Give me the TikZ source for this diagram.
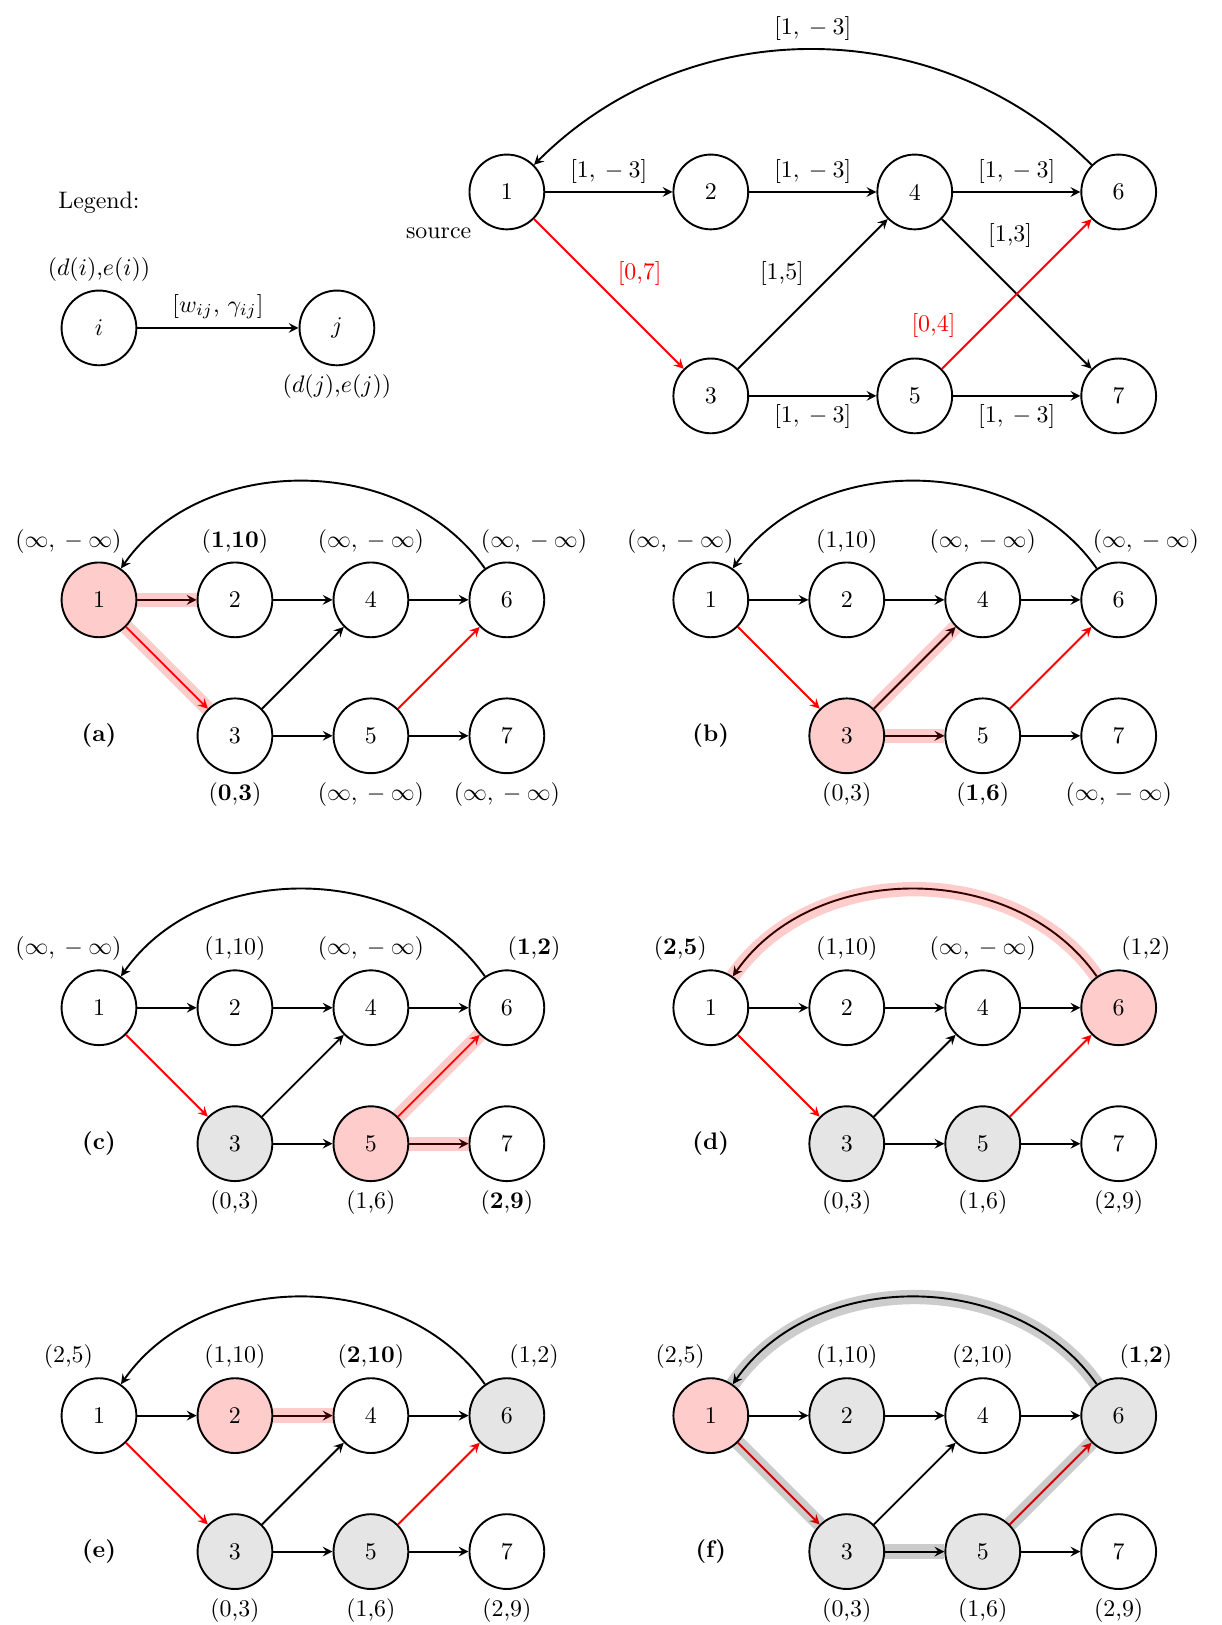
\documentclass[tikz,border=0pt]{standalone}
\usetikzlibrary{positioning}

\tikzset{
  state/.style={circle,draw,thick,minimum size=1.1cm,inner sep=0pt},
  link/.style={->,>=stealth,thick},
  cur/.style={fill=red!20},
  done/.style={fill=black!10},
  hlred/.style={line width=6pt,red,opacity=0.2},
  hlgray/.style={line width=6pt,black,opacity=0.2},
  v1/.style={},v2/.style={},v3/.style={},v4/.style={},
  v5/.style={},v6/.style={},v7/.style={}
}
\newcommand{\infpair}{$(\infty,{}-\infty)$}
% #1 prefix, #2 letter, #3..#9 labels of nodes 1,2,4,6,3,5,7
\newcommand{\panelgraph}[9]{%
  \node[state,v1,label={[xshift=-0.45cm]above:#3}] (#1-1) at (0,0) {1};
  \node[state,v2,label={above:#4}] (#1-2) at (2,0) {2};
  \node[state,v4,label={above:#5}] (#1-4) at (4,0) {4};
  \node[state,v6,label={[xshift=0.4cm]above:#6}] (#1-6) at (6,0) {6};
  \node[state,v3,label={below:#7}] (#1-3) at (2,-2) {3};
  \node[state,v5,label={below:#8}] (#1-5) at (4,-2) {5};
  \node[state,v7,label={below:#9}] (#1-7) at (6,-2) {7};
  \node[font=\bfseries] (#1-name) at (0,-2) {(#2)};
  \draw[link] (#1-1) -- (#1-2);
  \draw[link] (#1-2) -- (#1-4);
  \draw[link] (#1-4) -- (#1-6);
  \draw[link] (#1-3) -- (#1-5);
  \draw[link] (#1-5) -- (#1-7);
  \draw[link] (#1-3) -- (#1-4);
  \draw[link,red] (#1-1) -- (#1-3);
  \draw[link,red] (#1-5) -- (#1-6);
  \draw[link] (#1-6) to[bend right=55] (#1-1);
}

\begin{document}
\begin{tikzpicture}
\useasboundingbox (-1.456,-15.08) rectangle (16.51,8.824);

% legend
\node (legend) at (0,5.84) {Legend:};
\node[state,label={above:$(d(i)$,$e(i))$}] (i) at (0,4) {$i$};
\node[state,label={below:$(d(j)$,$e(j))$}] (j) at (3.5,4) {$j$};
\draw[link] (i) -- node[above] {$[w_{ij}$, $\gamma_{ij}]$} (j);

% graph
\node[state,label=below left:source] (n1) at (6,6) {1};
\node[state] (n2) at (9,6) {2};
\node[state] (n4) at (12,6) {4};
\node[state] (n6) at (15,6) {6};
\node[state] (n3) at (9,3) {3};
\node[state] (n5) at (12,3) {5};
\node[state] (n7) at (15,3) {7};
\draw[link] (n1) -- node[above] {$[1,{}-3]$} (n2);
\draw[link] (n2) -- node[above] {$[1,{}-3]$} (n4);
\draw[link] (n4) -- node[above] {$[1,{}-3]$} (n6);
\draw[link] (n3) -- node[below] {$[1,{}-3]$} (n5);
\draw[link] (n5) -- node[below] {$[1,{}-3]$} (n7);
\draw[link,red] (n1) -- node[above right] {[0,7]} (n3);
\draw[link] (n3) -- node[above left] {[1,5]} (n4);
\draw[link] (n4) -- node[above right,pos=0.25] {[1,3]} (n7);
\draw[link,red] (n5) -- node[above left,pos=0.15] {[0,4]} (n6);
\draw[link] (n6) to[bend right=45] node[above] {$[1,{}-3]$} (n1);

% (a)
\begin{scope}[v1/.style={cur}]
\panelgraph{a}{a}{\infpair}{(\textbf{1},\textbf{10})}{\infpair}{\infpair}{(\textbf{0},\textbf{3})}{\infpair}{\infpair}
\draw[hlred] (a-1) -- (a-2);
\draw[hlred] (a-1) -- (a-3);
\end{scope}

% (b)
\begin{scope}[shift={(9,0)},v3/.style={cur}]
\panelgraph{b}{b}{\infpair}{(1,10)}{\infpair}{\infpair}{(0,3)}{(\textbf{1},\textbf{6})}{\infpair}
\draw[hlred] (b-3) -- (b-4);
\draw[hlred] (b-3) -- (b-5);
\end{scope}

% (c)
\begin{scope}[shift={(0,-6)},v3/.style={done},v5/.style={cur}]
\panelgraph{c}{c}{\infpair}{(1,10)}{\infpair}{(\textbf{1},\textbf{2})}{(0,3)}{(1,6)}{(\textbf{2},\textbf{9})}
\draw[hlred] (c-5) -- (c-6);
\draw[hlred] (c-5) -- (c-7);
\end{scope}

% (d)
\begin{scope}[shift={(9,-6)},v3/.style={done},v5/.style={done},v6/.style={cur}]
\panelgraph{d}{d}{(\textbf{2},\textbf{5})}{(1,10)}{\infpair}{(1,2)}{(0,3)}{(1,6)}{(2,9)}
\draw[hlred] (d-6) to[bend right=55] (d-1);
\end{scope}

% (e)
\begin{scope}[shift={(0,-12)},v3/.style={done},v5/.style={done},v6/.style={done},v2/.style={cur}]
\panelgraph{e}{e}{(2,5)}{(1,10)}{(\textbf{2},\textbf{10})}{(1,2)}{(0,3)}{(1,6)}{(2,9)}
\draw[hlred] (e-2) -- (e-4);
\end{scope}

% (f)
\begin{scope}[shift={(9,-12)},v2/.style={done},v3/.style={done},v5/.style={done},v6/.style={done},v1/.style={cur}]
\panelgraph{f}{f}{(2,5)}{(1,10)}{(2,10)}{(\textbf{1},\textbf{2})}{(0,3)}{(1,6)}{(2,9)}
\draw[hlgray] (f-1) -- (f-3);
\draw[hlgray] (f-3) -- (f-5);
\draw[hlgray] (f-5) -- (f-6);
\draw[hlgray] (f-6) to[bend right=55] (f-1);
\end{scope}
\end{tikzpicture}
\end{document}
